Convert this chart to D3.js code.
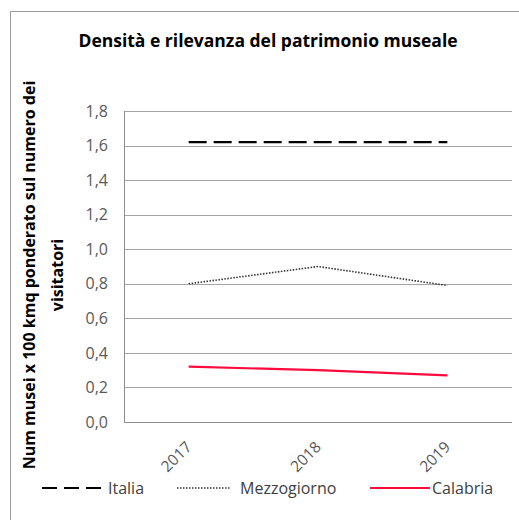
<!DOCTYPE html>
<html lang="it">
<head>
  <meta charset="UTF-8">
  <title>Densità e rilevanza del patrimonio museale</title>
  <style>
    body { margin: 0; background: #fff; }
    text { font-family: "Open Sans", Lato, sans-serif; }
  </style>
</head>
<body>
  <div id="chart"></div>

  <script src="https://d3js.org/d3.v7.min.js"></script>
  <script>
    // Dati
    const anni = ["2017", "2018", "2019"];
    const italia = [1.62, 1.62, 1.62];
    const mezzogiorno = [0.80, 0.90, 0.79];
    const calabria = [0.32, 0.30, 0.27];
    const yTicks = [0, 0.2, 0.4, 0.6, 0.8, 1.0, 1.2, 1.4, 1.6, 1.8];

    const serie = [
      { nome: "Italia", valori: italia, colore: "#000", dash: "18,7", spessore: 2.2 },
      { nome: "Mezzogiorno", valori: mezzogiorno, colore: "#333", dash: "1.5,1.5", spessore: 1.6 },
      { nome: "Calabria", valori: calabria, colore: "#ff0a3c", dash: null, spessore: 2.2 }
    ];

    const W = 519, H = 520;
    const plot = { left: 124, right: 512, top: 111, bottom: 422 };

    const svg = d3.select("#chart").append("svg")
      .attr("width", W).attr("height", H);

    // cornice esterna
    svg.append("rect")
      .attr("x", 10.5).attr("y", 11.5)
      .attr("width", W).attr("height", H)
      .attr("fill", "none").attr("stroke", "#9a9a9a");

    const x = d3.scaleBand().domain(anni).range([plot.left, plot.right]);
    const y = d3.scaleLinear().domain([0, 1.8]).range([plot.bottom, plot.top]);

    // griglia
    svg.append("g")
      .selectAll("line")
      .data(yTicks)
      .enter().append("line")
      .attr("x1", plot.left).attr("x2", plot.right)
      .attr("y1", d => Math.round(y(d)) + 0.5)
      .attr("y2", d => Math.round(y(d)) + 0.5)
      .attr("stroke", d => d === 0 ? "#8c8c8c" : "#a6a6a6")
      .attr("stroke-width", 1);

    // asse verticale
    svg.append("line")
      .attr("x1", plot.left + 0.5).attr("x2", plot.left + 0.5)
      .attr("y1", plot.top).attr("y2", plot.bottom)
      .attr("stroke", "#8c8c8c");

    // etichette asse y
    const yAxis = d3.axisLeft(y)
      .tickValues(yTicks)
      .tickSize(0)
      .tickPadding(16)
      .tickFormat(d => d3.format(".1f")(d).replace(".", ","));
    svg.append("g")
      .attr("transform", `translate(${plot.left},0)`)
      .call(yAxis)
      .call(g => g.select(".domain").remove())
      .selectAll("text")
      .attr("font-size", 16)
      .attr("fill", "#595959")
      .style("font-family", "'Open Sans', sans-serif");

    // etichette asse x ruotate
    svg.append("g")
      .selectAll("text")
      .data(anni)
      .enter().append("text")
      .attr("transform", d => `translate(${x(d) + x.bandwidth() / 2 + 4},${plot.bottom + 26}) rotate(-45)`)
      .attr("text-anchor", "end")
      .attr("font-size", 15.5)
      .attr("fill", "#595959")
      .text(d => d);

    // linee
    const line = d3.line()
      .x((d, i) => x(anni[i]) + x.bandwidth() / 2)
      .y(d => y(d));

    svg.append("g")
      .selectAll("path")
      .data(serie)
      .enter().append("path")
      .attr("d", d => line(d.valori))
      .attr("fill", "none")
      .attr("stroke", d => d.colore)
      .attr("stroke-width", d => d.spessore)
      .attr("stroke-dasharray", d => d.dash);

    // titolo
    svg.append("text")
      .attr("x", 268).attr("y", 47)
      .attr("text-anchor", "middle")
      .attr("font-size", 17.5)
      .attr("font-weight", "bold")
      .attr("fill", "#000")
      .text("Densità e rilevanza del patrimonio museale");

    // titolo asse y
    const yt = svg.append("text")
      .attr("transform", "translate(0,275) rotate(-90)")
      .attr("text-anchor", "middle")
      .attr("font-size", 16)
      .attr("font-weight", "bold")
      .attr("fill", "#000");
    yt.append("tspan").attr("x", 0).attr("y", 35)
      .text("Num musei x 100 kmq ponderato sul numero dei");
    yt.append("tspan").attr("x", 0).attr("y", 63)
      .text("visitatori");

    // legenda
    const legenda = [
      { x1: 42, x2: 104, tx: 108 },
      { x1: 177, x2: 230, tx: 240 },
      { x1: 370, x2: 430, tx: 432 }
    ];
    const lg = svg.append("g");
    serie.forEach((s, i) => {
      const p = legenda[i];
      lg.append("line")
        .attr("x1", p.x1).attr("x2", p.x2)
        .attr("y1", 488).attr("y2", 488)
        .attr("stroke", s.colore)
        .attr("stroke-width", s.spessore)
        .attr("stroke-dasharray", i === 0 ? "15,7" : s.dash);
      lg.append("text")
        .attr("x", p.tx).attr("y", 494)
        .attr("font-size", 16)
        .attr("fill", "#404040")
        .text(s.nome);
    });
  </script>
</body>
</html>
